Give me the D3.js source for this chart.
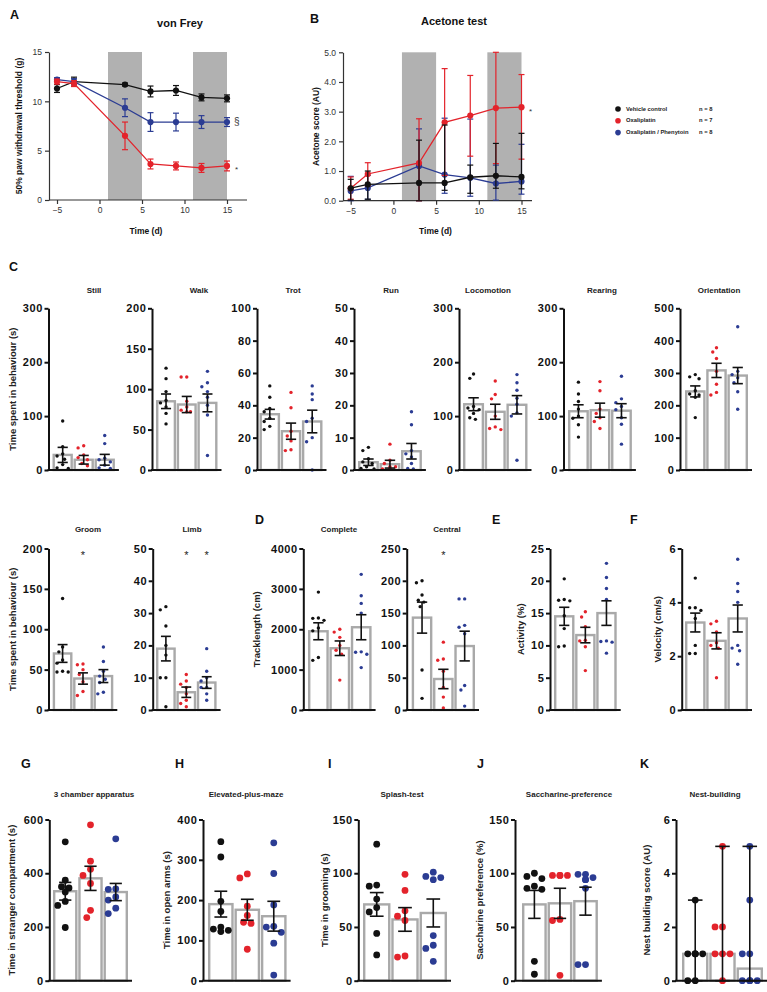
<!DOCTYPE html>
<html><head><meta charset="utf-8">
<script src="https://cdn.jsdelivr.net/npm/d3@7"></script>
<style>
body{margin:0;background:#fff}
svg text{font-family:"Liberation Sans",Arial,sans-serif}
</style></head><body>
<svg id="fig" width="767" height="992"></svg>
<script>
// ================= DATA =================
const groupNames = ["Vehicle control", "Oxaliplatin", "Oxaliplatin / Phenytoin"];
const groupNs = ["n = 8", "n = 7", "n = 8"];
const groupColors = ["#111111", "#e3232b", "#2b3c93"];

// A, B: time course
const timeDays = [-5, -3, 3, 6, 9, 12, 15];
const timeTicks = [-5, 0, 5, 10, 15];
const injectionWindows = [[1, 5], [11, 15]];

const vfTicks = [0, 5, 10, 15];
const vfVehicle = [11.3, 12.0, 11.7, 11.0, 11.1, 10.4, 10.3];
const vfVehicleSem = [0.4, 0.45, 0.15, 0.55, 0.5, 0.35, 0.35];
const vfOxa = [12.0, 11.8, 6.5, 3.65, 3.45, 3.25, 3.45];
const vfOxaSem = [0.25, 0.3, 1.4, 0.5, 0.4, 0.45, 0.5];
const vfPhen = [12.2, 12.0, 9.35, 7.9, 7.9, 7.9, 7.9];
const vfPhenSem = [0.2, 0.3, 0.9, 0.95, 0.9, 0.65, 0.45];

const acTicks = [0, 1, 2, 3, 4, 5];
const acVehicle = [0.42, 0.55, 0.6, 0.6, 0.79, 0.84, 0.8];
const acVehicleLo = [0.02, 0.05, 0.0, 0.35, 0.25, 0.42, 0.4];
const acVehicleHi = [0.72, 1.0, 2.04, 2.55, 1.2, 1.93, 2.27];
const acOxa = [0.42, 0.9, 1.27, 2.64, 2.87, 3.12, 3.15];
const acOxaLo = [0.05, 0.5, 0.0, 0.85, 1.5, 1.25, 1.4];
const acOxaHi = [0.8, 1.28, 2.76, 4.45, 4.22, 5.0, 4.25];
const acPhen = [0.33, 0.43, 1.17, 0.88, 0.77, 0.58, 0.65];
const acPhenLo = [0.0, 0.05, 0.0, 0.25, 0.15, 0.02, 0.22];
const acPhenHi = [0.82, 0.85, 2.42, 2.78, 2.75, 1.2, 1.9];

// C: behaviour (means, SEM, individual animals per group)
const stillMeans = [28, 19, 19], stillSems = [14, 8, 10];
const stillPoints = [[91, 43, 30, 26, 20, 10, 4, 3], [45, 41, 28, 23, 19, 12, 8], [64, 49, 22, 19, 15, 9, 4, 3]];
const walkMeans = [85, 81, 83], walkSems = [9, 10, 11];
const walkPoints = [[126, 113, 97, 86, 83, 78, 70, 57], [115, 115, 85, 78, 74, 72, 72], [122, 108, 103, 97, 90, 80, 68, 18]];
const trotMeans = [34.5, 24, 30], trotSems = [3, 5, 7];
const trotPoints = [[52, 45, 38, 36, 32, 30, 27, 25], [48, 38.5, 24, 21, 18, 12.5, 12], [52, 47, 43.5, 32, 30, 20, 17.5, 0]];
const runMeans = [2.4, 1.8, 5.8], runSems = [1, 1.2, 2.4];
const runPoints = [[7, 6, 3.5, 2.5, 2, 1, 0.5, 0.3], [8, 3, 2, 1, 1, 0.5, 0.3], [18, 14, 6, 5, 4, 2, 0.5, 0.3]];
const locoMeans = [122, 108, 121], locoSems = [12, 14, 17];
const locoPoints = [[178, 170, 118, 115, 112, 105, 97, 94], [165, 140, 132, 100, 80, 77, 75], [177, 162, 148, 133, 122, 106, 100, 18]];
const rearMeans = [109, 111, 110], rearSems = [12, 13, 13];
const rearPoints = [[163, 141, 127, 113, 100, 96, 84, 61], [164, 147, 113, 105, 97, 90, 77], [174, 132, 125, 118, 112, 97, 85, 48]];
const orientMeans = [243, 308, 292], orientSems = [17, 22, 25];
const orientPoints = [[295, 288, 282, 245, 235, 232, 225, 162], [378, 365, 345, 305, 265, 240, 232], [443, 305, 295, 285, 270, 242, 188]];
const groomMeans = [70, 39, 42], groomSems = [11, 7, 8];
const groomPoints = [[138, 78, 72, 62, 58, 48, 47, 47], [57, 56, 50, 44, 35, 23, 18], [78, 60, 48, 42, 38, 34, 22, 20]];
const limbMeans = [19, 5.5, 8.5], limbSems = [3.8, 1.6, 1.8];
const limbPoints = [[32, 31, 26, 20, 17, 10, 10, 1], [11, 9, 8, 7, 5, 3, 2, 1], [19, 12, 10, 9, 7, 7, 5, 3]];

// D, E, F: open field
const completeMeans = [1950, 1530, 2050], completeSems = [210, 180, 310];
const completePoints = [[2920, 2280, 2270, 2220, 2030, 1960, 1300, 1230], [2000, 1930, 1800, 1600, 1480, 1380, 740], [3360, 2830, 2640, 2400, 1440, 1430, 1380, 1050]];
const centralMeans = [143, 48, 99], centralSems = [24, 15, 23];
const centralPoints = [[200, 197, 178, 170, 167, 160, 62, 18], [105, 79, 77, 60, 35, 20, 3], [172, 172, 131, 128, 118, 38, 31, 6]];
const activityMeans = [14.5, 11.6, 15], activitySems = [1.4, 1.2, 1.9];
const activityPoints = [[20.3, 17.1, 17, 16.9, 14.6, 12.6, 9.9, 9.8], [15.2, 14.4, 12.9, 10.8, 10.7, 9.8, 6.1], [22.7, 20.5, 18.8, 17.1, 10.7, 10.6, 10.5, 8.8]];
const velocityMeans = [3.25, 2.57, 3.4], velocitySems = [0.35, 0.3, 0.5];
const velocityPoints = [[4.9, 3.8, 3.8, 3.7, 3.4, 2.4, 2.1, 2.1], [3.3, 3.2, 2.9, 2.5, 2.4, 2.3, 1.2], [5.6, 4.7, 4.4, 4.0, 2.4, 2.3, 2.2, 1.7]];

// G - K
const chamberMeans = [333, 381, 330], chamberSems = [33, 45, 32];
const chamberPoints = [[517, 374, 350, 345, 330, 295, 280, 198], [580, 445, 415, 392, 362, 262, 235], [528, 342, 340, 312, 300, 270, 250]];
const epmMeans = [190, 176, 160], epmSems = [32, 26, 37];
const epmPoints = [[345, 307, 197, 172, 133, 128, 125, 122], [265, 255, 185, 162, 145, 142, 78], [342, 266, 188, 135, 133, 120, 93, 14]];
const splashMeans = [71, 57, 63], splashSems = [11, 11, 13];
const splashPoints = [[127, 89, 88, 76, 68, 64, 44, 24], [99, 84, 65, 60, 56, 23, 22], [101, 97, 96, 94, 42, 33, 30, 18]];
const sacchMeans = [71, 72, 74], sacchSems = [13, 14, 13];
const sacchPoints = [[100, 97, 95, 88, 86, 85, 18, 6], [98, 98, 98, 98, 57, 56, 5], [99, 99, 96, 94, 94, 86, 15, 15]];
const nestMedians = [1, 1, 0.45], nestMin = [0, 0, 0], nestMax = [3, 5, 5];
const nestPoints = [[3, 1, 1, 1, 1, 1, 0, 0], [5, 2, 2, 1, 1, 1, 0], [5, 3, 1, 1, 0, 0, 0, 0]];

// ================= DRAWING =================
const svg = d3.select("#fig");
const FONT = '"Liberation Sans",Arial,sans-serif';
const BAR_STROKE = "#a9a9a9";

function letter(t, x, y) {
  svg.append("text").attr("x", x).attr("y", y).text(t)
    .attr("font-size", 12.5).attr("font-weight", "bold").attr("fill", "#111");
}

function swarmOffsets(vals, y, r, maxOff, gap) {
  const placed = [];
  const out = new Array(vals.length).fill(0);
  const order = vals.map((v, i) => ({ v, i })).sort((a, b) => b.v - a.v);
  const minD = 2 * r + gap;
  const step = r * 1.1;
  order.forEach(o => {
    const py = y(o.v);
    let best = 0, found = false;
    for (let k = 0; k < 30 && !found; k++) {
      const cands = k === 0 ? [0] : [-k * step, k * step];
      for (const c of cands) {
        if (Math.abs(c) > maxOff) continue;
        if (placed.every(p => (p.x - c) ** 2 + (p.y - py) ** 2 >= minD * minD)) { best = c; found = true; break; }
      }
    }
    placed.push({ x: best, y: py });
    out[o.i] = best;
  });
  return out;
}

function barPanel(p) {
  const g = svg.append("g");
  const y = d3.scaleLinear().domain([0, p.yMax]).range([p.bottom, p.top]);
  const x = d3.scaleBand().domain([0, 1, 2]).range([p.barStart, p.barStart + 3 * p.band]).paddingInner(0.03);
  const bw = x.bandwidth();
  g.selectAll("rect.bar").data(p.means).join("rect")
    .attr("x", (d, i) => x(i) + 1.2).attr("width", bw - 2.4)
    .attr("y", d => y(d)).attr("height", d => p.bottom - y(d))
    .attr("fill", "#fff").attr("stroke", BAR_STROKE).attr("stroke-width", 2.4);
  // points
  p.points.forEach((vals, gi) => {
    const offs = swarmOffsets(vals, y, p.r, bw * 0.42, p.r < 2 ? 2.2 : 0.6);
    g.selectAll(null).data(vals).join("circle")
      .attr("cx", (d, i) => x(gi) + bw / 2 + offs[i]).attr("cy", d => y(d))
      .attr("r", p.r).attr("fill", groupColors[gi]);
  });
  // error bars
  const lo = p.lo || p.means.map((m, i) => Math.max(0, m - p.sems[i]));
  const hi = p.hi || p.means.map((m, i) => m + p.sems[i]);
  const capW = bw * (p.capFrac || 0.5);
  p.means.forEach((m, i) => {
    const cx = x(i) + bw / 2;
    g.append("line").attr("x1", cx).attr("x2", cx).attr("y1", y(lo[i])).attr("y2", y(hi[i]))
      .attr("stroke", "#111").attr("stroke-width", 1.6);
    [lo[i], hi[i]].forEach(v => g.append("line").attr("x1", cx - capW / 2).attr("x2", cx + capW / 2)
      .attr("y1", y(v)).attr("y2", y(v)).attr("stroke", "#111").attr("stroke-width", 1.6));
  });
  // axes
  const ax = g.append("g").attr("transform", `translate(${p.axisX},0)`)
    .call(d3.axisLeft(y).tickValues(p.ticks).tickSize(4).tickSizeOuter(0).tickPadding(1.5).tickFormat(d3.format("d")));
  ax.select(".domain").attr("stroke", "#111").attr("stroke-width", 2);
  ax.selectAll(".tick line").attr("stroke", "#111").attr("stroke-width", 2);
  ax.selectAll(".tick text").attr("font-size", 11).attr("font-weight", "bold").attr("fill", "#111")
    .attr("font-family", FONT).attr("letter-spacing", 0.6);
  g.append("line").attr("x1", p.axisX - 1).attr("x2", p.barStart + 3 * p.band + 4)
    .attr("y1", p.bottom).attr("y2", p.bottom).attr("stroke", "#111").attr("stroke-width", 2);
  if (p.title) {
    g.append("text").attr("x", p.titleX).attr("y", p.titleY).attr("text-anchor", "middle")
      .attr("dominant-baseline", "middle")
      .attr("font-size", p.titleSize || 8).attr("font-weight", "bold").attr("fill", "#222").text(p.title);
  }
  if (p.ylabel) {
    g.append("text").attr("transform", `translate(${p.ylabelX},${(p.top + p.bottom) / 2}) rotate(-90)`)
      .attr("text-anchor", "middle").attr("dominant-baseline", "middle")
      .attr("font-size", p.ylabelSize || 9.5).attr("font-weight", "bold").attr("fill", "#222").text(p.ylabel);
  }
  (p.stars || []).forEach(si => {
    g.append("text").attr("x", x(si) + bw / 2).attr("y", p.top + 10).attr("text-anchor", "middle")
      .attr("font-size", 11).attr("fill", "#222").text("*");
  });
}

function timePanel(p) {
  const g = svg.append("g");
  const x = d3.scaleLinear().domain([-5, 15]).range(p.xr);
  const y = d3.scaleLinear().domain([0, p.yMax]).range([p.bottom, p.top]);
  injectionWindows.forEach(w => {
    g.append("rect").attr("x", x(w[0])).attr("width", x(w[1]) - x(w[0]))
      .attr("y", p.top).attr("height", p.bottom - p.top).attr("fill", "#b1b1b1");
  });
  const ya = g.append("g").attr("transform", `translate(${p.axisX},0)`)
    .call(d3.axisLeft(y).tickValues(p.ticks).tickSize(4).tickSizeOuter(0).tickPadding(3));
  const xa = g.append("g").attr("transform", `translate(0,${p.bottom})`)
    .call(d3.axisBottom(x).tickValues(timeTicks).tickSize(4).tickSizeOuter(0).tickPadding(3));
  xa.select(".domain").remove();
  g.append("line").attr("x1", p.axisX).attr("x2", p.xEnd).attr("y1", p.bottom).attr("y2", p.bottom)
    .attr("stroke", "#333").attr("stroke-width", 1.2);
  [ya, xa].forEach(a => {
    a.select(".domain").attr("stroke", "#333").attr("stroke-width", 1.2);
    a.selectAll(".tick line").attr("stroke", "#333").attr("stroke-width", 1.2);
    a.selectAll(".tick text").attr("font-size", 8.5).attr("fill", "#333").attr("font-family", FONT);
  });
  p.series.forEach(s => {
    const col = groupColors[s.gi];
    const line = d3.line().x((d, i) => x(timeDays[i])).y(d => y(d));
    s.vals.forEach((v, i) => {
      const cx = x(timeDays[i]);
      const l = y(Math.max(0, s.lo[i])), h = y(Math.min(p.yMax, s.hi[i]));
      g.append("line").attr("x1", cx).attr("x2", cx).attr("y1", l).attr("y2", h).attr("stroke", col).attr("stroke-width", 1.2);
      [s.lo[i], s.hi[i]].forEach(e => {
        if (e < 0 || e > p.yMax) return;
        g.append("line").attr("x1", cx - 3).attr("x2", cx + 3).attr("y1", y(e)).attr("y2", y(e)).attr("stroke", col).attr("stroke-width", 1.2);
      });
    });
    g.append("path").attr("d", line(s.vals)).attr("fill", "none").attr("stroke", col).attr("stroke-width", 1.3);
    g.selectAll(null).data(s.vals).join("circle").attr("cx", (d, i) => x(timeDays[i])).attr("cy", d => y(d))
      .attr("r", 3.1).attr("fill", col);
  });
  g.append("text").attr("x", p.titleX).attr("y", p.titleY).attr("text-anchor", "middle")
    .attr("font-size", 11).attr("font-weight", "bold").attr("fill", "#111").text(p.title);
  g.append("text").attr("x", (p.axisX + p.xEnd) / 2 - 2).attr("y", 234).attr("text-anchor", "middle")
    .attr("font-size", 8.5).attr("font-weight", "bold").attr("fill", "#111").text("Time (d)");
  g.append("text").attr("transform", `translate(${p.ylabelX},${(p.top + p.bottom) / 2}) rotate(-90)`)
    .attr("text-anchor", "middle").attr("dominant-baseline", "middle")
    .attr("font-size", 8.5).attr("font-weight", "bold").attr("fill", "#111").text(p.ylabel);
  (p.marks || []).forEach(m => {
    g.append("text").attr("x", m.x).attr("y", y(m.v)).attr("dominant-baseline", "middle")
      .attr("font-size", m.size || 9).attr("fill", "#333").text(m.t);
  });
}

// ---------- A: von Frey ----------
letter("A", 10, 19);
timePanel({
  xr: [57, 227], axisX: 49, xEnd: 247, top: 52, bottom: 200, yMax: 15, ticks: vfTicks,
  title: "von Frey", titleX: 180, titleY: 27, ylabel: "50% paw withdrawal threshold (g)", ylabelX: 20,
  series: [
    { gi: 0, vals: vfVehicle, lo: vfVehicle.map((v, i) => v - vfVehicleSem[i]), hi: vfVehicle.map((v, i) => v + vfVehicleSem[i]) },
    { gi: 2, vals: vfPhen, lo: vfPhen.map((v, i) => v - vfPhenSem[i]), hi: vfPhen.map((v, i) => v + vfPhenSem[i]) },
    { gi: 1, vals: vfOxa, lo: vfOxa.map((v, i) => v - vfOxaSem[i]), hi: vfOxa.map((v, i) => v + vfOxaSem[i]) }
  ],
  marks: [{ t: "§", x: 234, v: 7.9, size: 10 }, { t: "*", x: 235, v: 3.1, size: 8 }]
});

// ---------- B: Acetone ----------
letter("B", 310, 23);
timePanel({
  xr: [350.7, 521.5], axisX: 343, xEnd: 532, top: 52.3, bottom: 200.7, yMax: 5, ticks: acTicks,
  title: "Acetone test", titleX: 454, titleY: 25, ylabel: "Acetone score (AU)", ylabelX: 317,
  series: [
    { gi: 2, vals: acPhen, lo: acPhenLo, hi: acPhenHi },
    { gi: 1, vals: acOxa, lo: acOxaLo, hi: acOxaHi },
    { gi: 0, vals: acVehicle, lo: acVehicleLo, hi: acVehicleHi }
  ],
  marks: [{ t: "*", x: 529, v: 3.0, size: 8 }]
});

// legend
groupNames.forEach((n, i) => {
  const yy = 109 + i * 11.8;
  svg.append("circle").attr("cx", 618).attr("cy", yy).attr("r", 2.8).attr("fill", groupColors[i]);
  svg.append("text").attr("x", 626).attr("y", yy).attr("dominant-baseline", "middle")
    .attr("font-size", 5.8).attr("font-weight", "bold").attr("fill", "#222").text(n);
  svg.append("text").attr("x", 699).attr("y", yy).attr("dominant-baseline", "middle")
    .attr("font-size", 5.8).attr("font-weight", "bold").attr("fill", "#222").text(groupNs[i]);
});

// ---------- C row 1 ----------
letter("C", 9, 271);
const r1 = { top: 308.3, bottom: 470, titleY: 291, r: 1.7 };
barPanel({ ...r1, axisX: 48.5, barStart: 52.5, band: 20.8, yMax: 300, ticks: [0, 100, 200, 300], title: "Still", titleX: 94,
  means: stillMeans, sems: stillSems, points: stillPoints, ylabel: "Time spent in behaviour (s)", ylabelX: 13 });
barPanel({ ...r1, axisX: 152, barStart: 156, band: 20.5, yMax: 200, ticks: [0, 50, 100, 150, 200], title: "Walk", titleX: 199,
  means: walkMeans, sems: walkSems, points: walkPoints });
barPanel({ ...r1, axisX: 257, barStart: 259.5, band: 21, yMax: 100, ticks: [0, 20, 40, 60, 80, 100], title: "Trot", titleX: 293,
  means: trotMeans, sems: trotSems, points: trotPoints });
barPanel({ ...r1, axisX: 354, barStart: 358, band: 21.3, yMax: 50, ticks: [0, 10, 20, 30, 40, 50], title: "Run", titleX: 391,
  means: runMeans, sems: runSems, points: runPoints });
barPanel({ ...r1, axisX: 459, barStart: 463, band: 21.5, yMax: 300, ticks: [0, 100, 200, 300], title: "Locomotion", titleX: 488,
  means: locoMeans, sems: locoSems, points: locoPoints });
barPanel({ ...r1, axisX: 563.5, barStart: 568, band: 21.3, yMax: 300, ticks: [0, 100, 200, 300], title: "Rearing", titleX: 602,
  means: rearMeans, sems: rearSems, points: rearPoints });
barPanel({ ...r1, axisX: 680, barStart: 685, band: 21, yMax: 500, ticks: [0, 100, 200, 300, 400, 500], title: "Orientation", titleX: 719,
  means: orientMeans, sems: orientSems, points: orientPoints });

// ---------- C row 2, D, E, F ----------
const r2 = { top: 548.5, bottom: 710, titleY: 530, r: 1.7 };
barPanel({ ...r2, axisX: 48.5, barStart: 52.7, band: 20.2, yMax: 200, ticks: [0, 50, 100, 150, 200], title: "Groom", titleX: 88,
  means: groomMeans, sems: groomSems, points: groomPoints, ylabel: "Time spent in behaviour (s)", ylabelX: 13, stars: [1] });
barPanel({ ...r2, axisX: 152.7, barStart: 156, band: 20.2, yMax: 50, ticks: [0, 10, 20, 30, 40, 50], title: "Limb", titleX: 192,
  means: limbMeans, sems: limbSems, points: limbPoints, stars: [1, 2] });
letter("D", 255, 524);
barPanel({ ...r2, axisX: 303.3, barStart: 308, band: 21.2, yMax: 4000, ticks: [0, 1000, 2000, 3000, 4000], title: "Complete", titleX: 339,
  means: completeMeans, sems: completeSems, points: completePoints, ylabel: "Tracklength (cm)", ylabelX: 257 });
barPanel({ ...r2, axisX: 406.7, barStart: 411.7, band: 21.1, yMax: 250, ticks: [0, 50, 100, 150, 200, 250], title: "Central", titleX: 447,
  means: centralMeans, sems: centralSems, points: centralPoints, stars: [1] });
letter("E", 492, 524);
barPanel({ ...r2, axisX: 550, barStart: 554, band: 20.9, yMax: 25, ticks: [0, 5, 10, 15, 20, 25],
  means: activityMeans, sems: activitySems, points: activityPoints, ylabel: "Activity (%)", ylabelX: 521 });
letter("F", 630, 524);
barPanel({ ...r2, axisX: 681.7, barStart: 685, band: 21, yMax: 6, ticks: [0, 2, 4, 6],
  means: velocityMeans, sems: velocitySems, points: velocityPoints, ylabel: "Velocity (cm/s)", ylabelX: 658 });

// ---------- G - K ----------
const r3 = { top: 819.5, bottom: 980.7, titleY: 795, r: 3.4 };
letter("G", 21, 768);
barPanel({ ...r3, axisX: 49.3, barStart: 53, band: 25, yMax: 600, ticks: [0, 200, 400, 600], title: "3 chamber apparatus", titleX: 94,
  means: chamberMeans, sems: chamberSems, points: chamberPoints, ylabel: "Time in stranger compartment (s)", ylabelX: 12 });
letter("H", 175, 768);
barPanel({ ...r3, axisX: 203, barStart: 208, band: 26.2, yMax: 400, ticks: [0, 100, 200, 300, 400], title: "Elevated-plus-maze", titleX: 246,
  means: epmMeans, sems: epmSems, points: epmPoints, ylabel: "Time in open arms (s)", ylabelX: 167 });
letter("I", 328, 768);
barPanel({ ...r3, axisX: 358.3, barStart: 363, band: 28, yMax: 150, ticks: [0, 50, 100, 150], title: "Splash-test", titleX: 402,
  means: splashMeans, sems: splashSems, points: splashPoints, ylabel: "Time in grooming (s)", ylabelX: 325 });
letter("J", 477, 768);
barPanel({ ...r3, axisX: 515, barStart: 522, band: 25.3, yMax: 150, ticks: [0, 50, 100, 150], title: "Saccharine-preference", titleX: 569,
  means: sacchMeans, sems: sacchSems, points: sacchPoints, ylabel: "Saccharine preference (%)", ylabelX: 480 });
letter("K", 640, 768);
barPanel({ ...r3, axisX: 676, barStart: 682, band: 27, yMax: 6, ticks: [0, 2, 4, 6], title: "Nest-building", titleX: 715,
  means: nestMedians, lo: nestMin, hi: nestMax, points: nestPoints, capFrac: 0.55,
  ylabel: "Nest building score (AU)", ylabelX: 647 });
</script>
</body></html>
